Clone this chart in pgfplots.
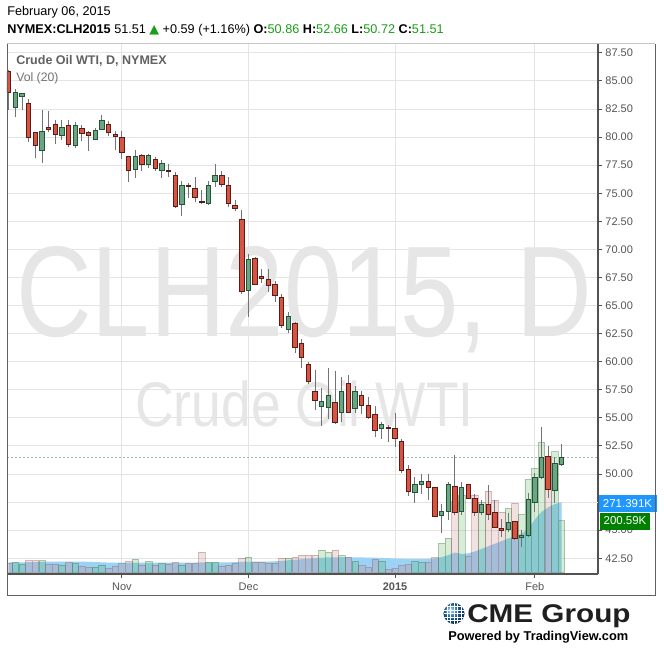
\documentclass[border=0pt]{standalone}
\usepackage{fontspec}
\setmainfont{Liberation Sans}
\newfontfamily\djv{DejaVu Sans}
\usepackage{graphicx}
\usepackage{pgfplots}
\pgfplotsset{compat=1.18}
\usepackage{pgfplotstable}
\usepgfplotslibrary{statistics}

\definecolor{upfill}{HTML}{6BA583}
\definecolor{upline}{HTML}{225437}
\definecolor{dnfill}{HTML}{D75442}
\definecolor{dnline}{HTML}{5B1A13}
\definecolor{wick}{HTML}{737375}
\definecolor{gridc}{HTML}{E4E4E4}
\definecolor{txt}{HTML}{555555}
\definecolor{wm}{HTML}{E6E6E6}
\definecolor{volup}{HTML}{4CAF50}
\definecolor{voldn}{HTML}{C87878}
\definecolor{maarea}{HTML}{9BD2F5}
\definecolor{lblblue}{HTML}{1E96FF}
\definecolor{lblgreen}{HTML}{008000}
\definecolor{hdrgreen}{HTML}{1A9E1A}
\definecolor{lastc}{HTML}{9CB8B2}
\definecolor{cmeblue}{HTML}{1B75BC}

% daily OHLC, volume (K) and 20-day volume average (K)
\pgfplotstableread{
i o h l c v ma
0 85.82 86.00 82.41 83.99 36 40
1 82.65 84.26 81.82 83.99 41 40
2 83.63 83.95 82.41 83.84 32 40
3 82.95 83.37 79.59 79.98 48 41
4 80.43 80.45 78.17 79.27 48 41
5 78.82 82.41 77.72 80.54 48 42
6 80.87 82.32 80.48 80.69 34 43
7 81.14 81.52 79.36 80.25 34 43
8 80.16 81.52 79.74 80.87 30 43
9 81.05 81.52 79.09 79.36 39 43
10 79.27 81.34 79.00 81.05 35 43
11 80.78 81.05 79.68 80.34 26 43
12 80.37 80.54 78.79 80.16 22 42
13 79.80 80.78 79.74 80.61 22 41
14 80.69 81.97 80.63 81.50 30 40
15 81.14 81.43 80.12 80.43 17 39
16 80.25 80.54 78.85 80.07 26 39
17 79.98 80.54 78.08 78.65 35 39
18 78.25 78.27 76.03 77.04 44 39
19 77.13 78.85 76.33 78.25 52 39
20 78.34 78.50 77.01 77.58 30 39
21 77.58 78.50 77.22 78.34 44 39
22 78.02 78.25 76.98 77.19 30 39
23 77.04 77.96 76.33 77.67 36 39
24 77.07 77.58 76.47 76.92 34 39
25 76.60 76.92 73.69 73.84 41 39
26 73.98 76.12 73.00 75.65 30 39
27 75.65 75.94 74.62 75.56 35 39
28 75.44 76.42 74.25 74.64 35 39
29 74.31 75.29 74.04 74.18 79 40
30 74.07 76.09 74.02 75.65 41 40
31 76.03 77.60 75.53 76.54 40 40
32 76.54 76.98 75.53 75.80 26 40
33 75.65 76.42 73.80 74.11 30 40
34 73.93 74.40 73.45 73.62 35 41
35 72.68 73.51 66.00 66.23 56 42
36 66.32 69.59 64.01 69.06 61 43
37 69.21 69.30 66.83 66.92 42 43
38 67.63 68.25 66.98 67.39 41 43
39 67.36 68.25 66.23 66.83 36 43
40 66.89 67.20 65.34 65.88 37 44
41 65.76 66.03 63.03 63.21 56 46
42 62.89 64.40 62.53 64.07 56 48
43 63.42 63.51 60.80 61.28 61 50
44 61.58 62.02 59.47 60.36 68 52
45 59.71 59.95 57.99 58.22 68 54
46 57.39 59.26 55.70 56.53 68 56
47 56.03 57.68 54.30 56.50 88 58
48 55.94 59.47 54.90 57.03 79 59
49 56.41 59.17 54.50 54.60 88 59
50 55.49 58.66 54.66 57.39 67 60
51 58.08 58.82 55.40 55.49 59 60
52 55.81 57.84 55.41 57.39 44 59
53 57.01 57.39 55.34 56.08 28 59
54 56.12 56.83 54.87 55.05 21 58
55 55.34 56.06 53.32 53.86 52 58
56 54.03 54.66 53.12 54.43 44 57
57 54.16 54.36 52.82 54.05 13 56
58 54.07 55.46 52.43 53.14 17 55
59 52.94 53.09 50.12 50.29 28 54
60 50.36 50.80 48.07 48.49 32 53
61 48.33 49.76 47.39 49.08 44 53
62 49.08 50.00 48.19 49.38 40 53
63 49.38 50.00 47.68 48.78 40 54
64 48.82 48.85 46.20 46.22 59 55
65 46.32 47.33 44.79 46.66 113 60
66 46.64 49.31 45.90 49.11 133 68
67 48.90 51.69 46.35 46.59 274 78
68 46.64 49.31 46.35 48.82 300 72
69 49.08 49.10 47.80 47.84 65 75
70 47.84 48.22 46.29 46.59 300 82
71 46.59 47.68 46.35 47.30 270 92
72 47.30 49.02 45.90 46.41 315 102
73 46.59 47.68 45.16 45.25 280 112
74 45.19 45.97 44.42 45.01 235 122
75 45.10 46.50 44.86 45.70 248 132
76 45.81 45.83 44.12 44.27 268 140
77 44.36 45.01 43.53 44.57 225 150
78 44.51 48.28 44.40 47.77 360 170
79 47.48 50.06 46.64 49.71 403 205
80 49.71 54.16 49.60 51.49 503 235
81 51.54 52.49 47.84 48.64 448 252
82 48.51 51.54 47.39 50.92 467 265
83 50.86 52.66 50.72 51.51 200.59 271.391
}\cwti

\pgfplotsset{
  chartbox/.style={scale only axis, width=443.25pt, height=397.5pt,
    at={(ab)}, anchor=south west, xmin=-0.255, xmax=88.48},
  candle/.style={boxplot/draw direction=y, boxplot/box extend=0.66,
    boxplot/whisker extend=0,
    boxplot/every whisker/.style={draw=wick, line width=0.75pt},
    boxplot/every box/.style={draw=#1line, fill=#1fill, line width=0.75pt},
    boxplot/every median/.style={draw=#1line, line width=0.75pt}},
}

\begin{document}
\begin{tikzpicture}[x=0.75pt,y=-0.75pt]
\path[use as bounding box, fill=white] (0,0) rectangle (664,652);
\coordinate (ab) at (7,574);

% price grid, axis lines and tick labels
\begin{axis}[chartbox, ymin=41.10, ymax=88.29,
  axis x line*=bottom, axis y line*=right,
  axis line style={draw=black!68, line width=1pt, -},
  xtick={17,36,58,79}, xticklabels={Nov,Dec,\textbf{2015},Feb},
  ytick={42.5,45,50,52.5,55,57.5,60,62.5,65,67.5,70,72.5,75,77.5,80,82.5,85,87.5},
  extra y ticks={47.5}, extra y tick labels={},
  yticklabel pos=right,
  y tick label style={/pgf/number format/fixed, /pgf/number format/fixed zerofill,
    /pgf/number format/precision=2, anchor=west, xshift=-1pt},
  /pgf/number format/assume math mode=true,
  ticklabel style={font=\fontsize{8.25}{9}\selectfont, text=txt},
  tick align=outside, major tick length=3pt,
  tick style={draw=black!68, line width=0.75pt},
  grid=major, major grid style={draw=gridc, line width=0.75pt}]
\addplot[draw=none] coordinates {(0,50)};
\end{axis}

% watermark
\node[anchor=base west, inner sep=0, text=wm] at (16,336)
  {\scalebox{0.812}[1]{\fontsize{96.75}{97}\selectfont CLH2015, D}};
\node[anchor=base west, inner sep=0, text=wm] at (135,426.5)
  {\scalebox{0.848}[1]{\fontsize{47.25}{48}\selectfont Crude Oil WTI}};

% volume with its 20-day average
\begin{axis}[chartbox, ymin=-5, ymax=2040, hide axis]
\addplot[fill=maarea, draw=none] table[x=i, y=ma]{\cwti} \closedcycle;
\addplot[ybar, bar width=0.97, bar shift=0pt, fill=volup, fill opacity=0.22,
  draw=volup!60!black, draw opacity=0.35]
  table[x=i, y=v, restrict expr to domain={\thisrow{c}-\thisrow{o}}{0:100}]{\cwti};
\addplot[ybar, bar width=0.97, bar shift=0pt, fill=voldn, fill opacity=0.22,
  draw=voldn!70!black, draw opacity=0.35]
  table[x=i, y=v, restrict expr to domain={\thisrow{c}-\thisrow{o}}{-100:-0.001}]{\cwti};
\end{axis}

% candles
\begin{axis}[chartbox, ymin=41.10, ymax=88.29, hide axis]
\addplot[lastc, dash pattern=on 1.5pt off 1.5pt, line width=0.75pt]
  coordinates {(-0.255,51.51) (88.48,51.51)};
\pgfplotstablegetrowsof{\cwti}
\pgfmathtruncatemacro\nlast{\pgfplotsretval-1}
\pgfplotsforeachungrouped \r in {0,...,\nlast}{%
  \pgfplotstablegetelem{\r}{i}\of\cwti \let\vi\pgfplotsretval
  \pgfplotstablegetelem{\r}{o}\of\cwti \let\vo\pgfplotsretval
  \pgfplotstablegetelem{\r}{h}\of\cwti \let\vh\pgfplotsretval
  \pgfplotstablegetelem{\r}{l}\of\cwti \let\vl\pgfplotsretval
  \pgfplotstablegetelem{\r}{c}\of\cwti \let\vc\pgfplotsretval
  \pgfmathsetmacro\blo{min(\vo,\vc)}%
  \pgfmathsetmacro\bhi{max(\vo,\vc)}%
  \pgfmathtruncatemacro\isup{\vc>=\vo}%
  \ifnum\isup=1 \def\cst{up}\else\def\cst{dn}\fi
  \edef\doit{\noexpand\addplot[candle=\cst, boxplot prepared={draw position=\vi,
    lower whisker=\vl, lower quartile=\blo, median=\blo,
    upper quartile=\bhi, upper whisker=\vh}] coordinates {};}%
  \doit
}
\end{axis}

% last value labels
\fill[lblblue] (598.5,494.5) rectangle (657,512);
\node[text=white, inner sep=0] at (627.5,503.5) {\fontsize{8.6}{9}\selectfont 271.391K};
\fill[lblgreen] (600,512.5) rectangle (650,529.5);
\node[text=white, inner sep=0] at (625,521) {\fontsize{8.6}{9}\selectfont 200.59K};

% frame
\draw[black!22, line width=0.75pt] (7,44) -- (655,44);
\draw[black!62, line width=0.75pt] (7,44) -- (7,595) -- (655,595) -- (655,44);

% legend texts inside the pane
\node[anchor=base west, inner sep=0, text=black!62] at (16,65)
  {\fontsize{9.4}{10}\selectfont\bfseries Crude Oil WTI, D, NYMEX};
\node[anchor=base west, inner sep=0, text=black!55] at (16,81.3)
  {\fontsize{9.2}{10}\selectfont Vol (20)};

% header
\node[anchor=base west, inner sep=0] at (7,16)
  {\fontsize{9.5}{10}\selectfont February 06, 2015};
\node[anchor=base west, inner sep=0] at (7,33.3)
  {\fontsize{9.5}{10}\selectfont\textbf{NYMEX:CLH2015} 51.51 {\color{hdrgreen}\djv ▲} +0.59 (+1.16\%)
   \textbf{O:}{\color{hdrgreen}50.86} \textbf{H:}{\color{hdrgreen}52.66}
   \textbf{L:}{\color{hdrgreen}50.72} \textbf{C:}{\color{hdrgreen}51.51}};

% CME Group logo
\begin{scope}
\clip (454,613.5) circle (10.5);
\shade[ball color=cmeblue] (454,613.5) circle (10.5);
\foreach \d in {-7,-3.5,0,3.5,7}{
  \draw[white, line width=0.6pt] (443,613.5+\d) -- (465,613.5+\d);
  \draw[white, line width=0.6pt] (454+\d,603) -- (454+\d,624);
}
\end{scope}
\node[anchor=base west, inner sep=0, text=black!88] at (467,622.7)
  {\scalebox{1.16}[1]{\fontsize{19.2}{20}\selectfont\bfseries CME Group}};
\node[anchor=base west, inner sep=0] at (448,640.7)
  {\fontsize{9.6}{10}\selectfont\bfseries Powered by TradingView.com};
\end{tikzpicture}
\end{document}
